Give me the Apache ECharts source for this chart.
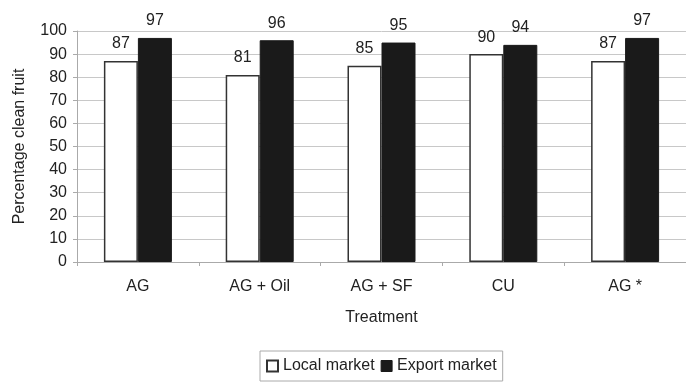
<!DOCTYPE html>
<html>
<head>
<meta charset="utf-8">
<script src="https://cdn.jsdelivr.net/npm/echarts@6/dist/echarts.min.js"></script>
<style>html,body{margin:0;padding:0;background:#fff}#c{width:686px;height:384px}</style>
</head>
<body>
<div id="c"></div>
<script>
var categories = ['AG', 'AG + Oil', 'AG + SF', 'CU', 'AG *'];
var localMarket = [87, 81, 85, 90, 87];
var exportMarket = [97, 96, 95, 94, 97];
var yTicks = [0, 10, 20, 30, 40, 50, 60, 70, 80, 90, 100];

var chart = echarts.init(document.getElementById('c'));
var font = 'Liberation Sans, Arial, sans-serif';
chart.setOption({
  animation: false,
  textStyle: { fontFamily: font },
  grid: { left: 77, top: 31, width: 612, height: 231 },
  legend: {
    left: 260, top: 351,
    padding: [7, 6, 7, 6],
    borderColor: '#aaa', borderWidth: 1,
    icon: 'rect',
    itemWidth: 11, itemHeight: 11, itemGap: 6,
    textStyle: { fontSize: 16, color: '#222', fontFamily: font },
    data: [
      { name: 'Local market', itemStyle: { color: '#fff', borderColor: '#333', borderWidth: 2 } },
      { name: 'Export market', itemStyle: { color: '#1a1a1a', borderColor: '#1a1a1a', borderWidth: 1 } }
    ]
  },
  xAxis: {
    type: 'category',
    data: categories,
    name: 'Treatment',
    nameLocation: 'middle',
    nameGap: 48,
    nameTextStyle: { fontSize: 16, color: '#222' },
    axisLine: { lineStyle: { color: '#aaa' } },
    axisTick: { show: true, length: 4, lineStyle: { color: '#aaa' } },
    axisLabel: { fontSize: 16, color: '#222', margin: 17 }
  },
  yAxis: {
    type: 'value',
    min: yTicks[0], max: yTicks[yTicks.length - 1], interval: 10,
    name: 'Percentage clean fruit',
    nameLocation: 'middle',
    nameGap: 49,
    nameTextStyle: { fontSize: 16, color: '#222' },
    axisLine: { show: true, lineStyle: { color: '#aaa' } },
    axisTick: { show: true, length: 4, lineStyle: { color: '#aaa' } },
    axisLabel: { fontSize: 16, color: '#222', margin: 10 },
    splitLine: { lineStyle: { color: '#c8c8c8' } }
  },
  series: [
    {
      name: 'Local market', type: 'bar', data: localMarket,
      barWidth: 34, barGap: '0%',
      itemStyle: { color: '#fff', borderColor: '#333', borderWidth: 1.5 },
      label: { show: true, position: 'top', distance: 9, fontSize: 16, color: '#222' }
    },
    {
      name: 'Export market', type: 'bar', data: exportMarket,
      barWidth: 34, barGap: '0%',
      itemStyle: { color: '#1a1a1a', borderColor: '#1a1a1a', borderWidth: 1 },
      label: { show: true, position: 'top', distance: 9, fontSize: 16, color: '#222' }
    }
  ]
});
</script>
</body>
</html>
